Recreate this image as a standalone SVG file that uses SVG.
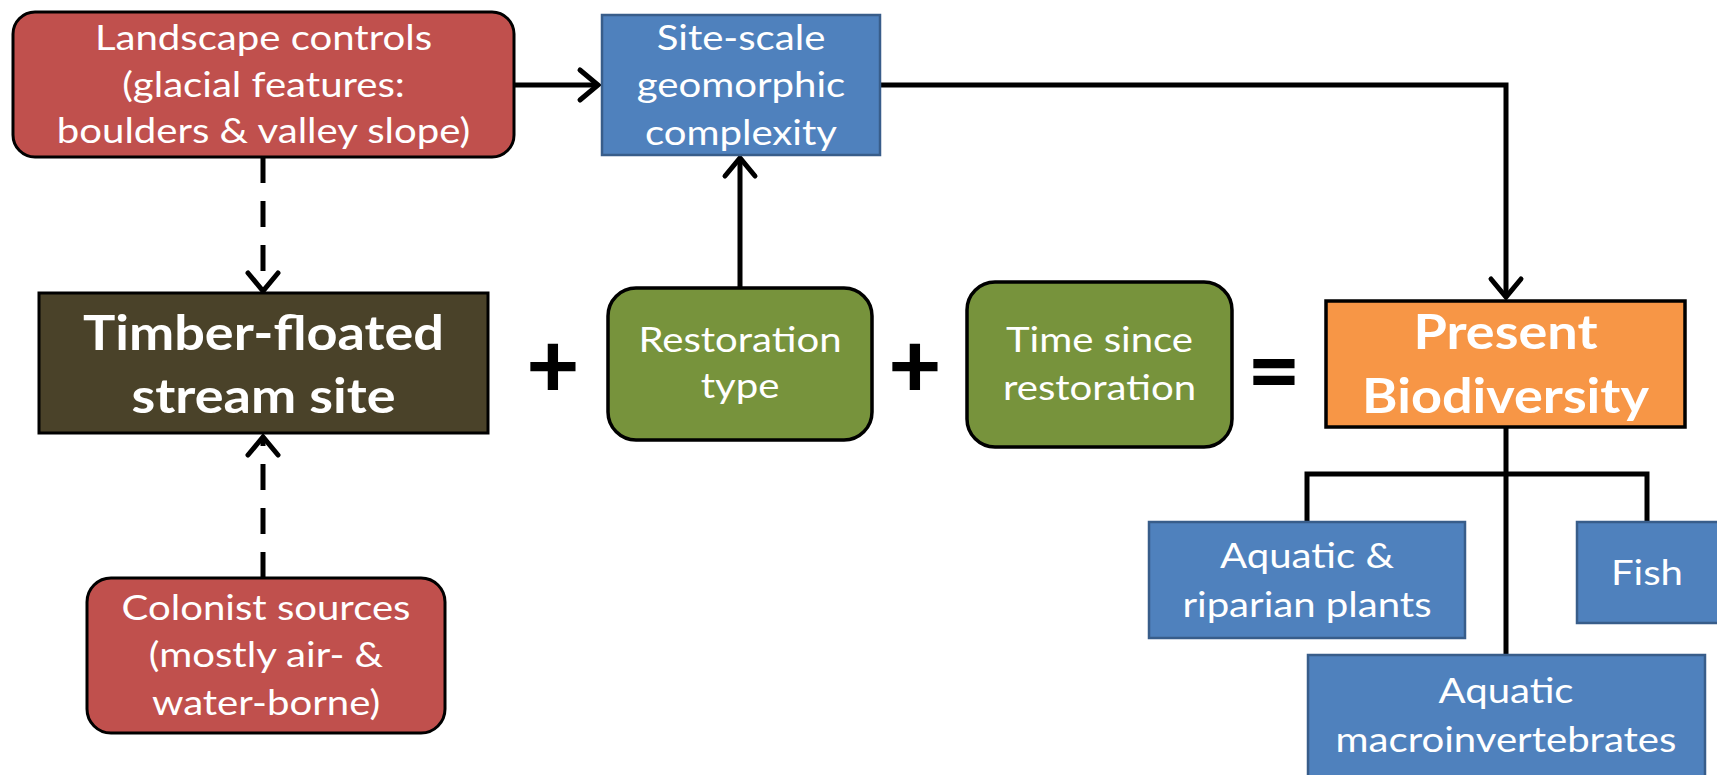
<svg xmlns="http://www.w3.org/2000/svg" width="1717" height="775" viewBox="0 0 1717 775">
  <style>
    .t { font-family: Lato, "Open Sans", sans-serif; fill: #ffffff; text-anchor: middle; font-size: 34px; }
    .b { font-weight: bold; font-size: 47px; }
    .op { font-family: Lato, "Liberation Sans", sans-serif; font-weight: 900; font-size: 92px; fill: #000; text-anchor: middle; }
    .red { fill: #C0504D; stroke: #000; stroke-width: 3; }
    .blue { fill: #4F81BD; stroke: #385D8A; stroke-width: 2.5; }
    .green { fill: #77933C; stroke: #000; stroke-width: 3.5; }
    .dark { fill: #4A4229; stroke: #000; stroke-width: 3; }
    .orange { fill: #F79646; stroke: #000; stroke-width: 3.5; }
    .c { fill: none; stroke: #000; stroke-width: 5; }
    .d { stroke-dasharray: 26 18; }
  </style>
  <defs>
    <marker id="arr" markerUnits="userSpaceOnUse" viewBox="-22 -20 26 40" markerWidth="26" markerHeight="40" refX="0" refY="0" orient="auto">
      <path d="M-18,-15 L0,0 L-18,15" fill="none" stroke="#000" stroke-width="5" stroke-linecap="round" stroke-linejoin="miter"/>
    </marker>
  </defs>

  <g id="connectors">
    <path class="c" d="M514,85 L598,85" marker-end="url(#arr)"/>
    <path class="c" d="M880,85 L1506,85 L1506,297" marker-end="url(#arr)"/>
    <path class="c" d="M740,288 L740,158" marker-end="url(#arr)"/>
    <path class="c d" d="M263,157 L263,291" marker-end="url(#arr)"/>
    <path class="c d" d="M263,578 L263,437" marker-end="url(#arr)"/>
    <path class="c" d="M1506,427 L1506,655"/>
    <path class="c" d="M1307,522 L1307,474 L1647,474 L1647,522"/>
  </g>

  <g id="landscape">
    <rect class="red" x="13" y="12" width="501" height="145" rx="22"/>
    <g transform="translate(263.5,0) scale(1.18,1)">
      <text class="t" x="0" y="50">Landscape controls</text>
      <text class="t" x="0" y="97">(glacial features:</text>
      <text class="t" x="0" y="143">boulders &amp; valley slope)</text>
    </g>
  </g>

  <g id="site">
    <rect class="blue" x="602" y="15" width="278" height="140"/>
    <g transform="translate(741,0) scale(1.18,1)">
      <text class="t" x="0" y="50">Site-scale</text>
      <text class="t" x="0" y="97">geomorphic</text>
      <text class="t" x="0" y="145">complexity</text>
    </g>
  </g>

  <g id="timber">
    <rect class="dark" x="39" y="293" width="449" height="140"/>
    <g transform="translate(263.5,0) scale(1.15,1)">
      <text class="t b" x="0" y="350">Timber-floated</text>
      <text class="t b" x="0" y="413">stream site</text>
    </g>
  </g>

  <g id="plus1"><text class="op" x="553" y="398">+</text></g>

  <g id="restoration">
    <rect class="green" x="608" y="288" width="264" height="152" rx="28"/>
    <g transform="translate(740,0) scale(1.18,1)">
      <text class="t" x="0" y="352">Restoration</text>
      <text class="t" x="0" y="398">type</text>
    </g>
  </g>

  <g id="plus2"><text class="op" x="915" y="398">+</text></g>

  <g id="time">
    <rect class="green" x="967" y="282" width="265" height="165" rx="28"/>
    <g transform="translate(1099.5,0) scale(1.18,1)">
      <text class="t" x="0" y="352">Time since</text>
      <text class="t" x="0" y="400">restoration</text>
    </g>
  </g>

  <g id="equals"><text class="op" x="1274" y="403">=</text></g>

  <g id="present">
    <rect class="orange" x="1326" y="301" width="359" height="126"/>
    <g transform="translate(1505.5,0) scale(1.15,1)">
      <text class="t b" x="0" y="349">Present</text>
      <text class="t b" x="0" y="413">Biodiversity</text>
    </g>
  </g>

  <g id="plants">
    <rect class="blue" x="1149" y="522" width="316" height="116"/>
    <g transform="translate(1307,0) scale(1.18,1)">
      <text class="t" x="0" y="568">Aquatic &amp;</text>
      <text class="t" x="0" y="617">riparian plants</text>
    </g>
  </g>

  <g id="fish">
    <rect class="blue" x="1577" y="522" width="145" height="101"/>
    <g transform="translate(1647,0) scale(1.18,1)">
      <text class="t" x="0" y="585">Fish</text>
    </g>
  </g>

  <g id="macro">
    <rect class="blue" x="1308" y="655" width="397" height="130"/>
    <g transform="translate(1506,0) scale(1.18,1)">
      <text class="t" x="0" y="703">Aquatic</text>
      <text class="t" x="0" y="752">macroinvertebrates</text>
    </g>
  </g>

  <g id="colonist">
    <rect class="red" x="87" y="578" width="358" height="155" rx="24"/>
    <g transform="translate(266,0) scale(1.18,1)">
      <text class="t" x="0" y="620">Colonist sources</text>
      <text class="t" x="0" y="667">(mostly air- &amp;</text>
      <text class="t" x="0" y="715">water-borne)</text>
    </g>
  </g>
</svg>
